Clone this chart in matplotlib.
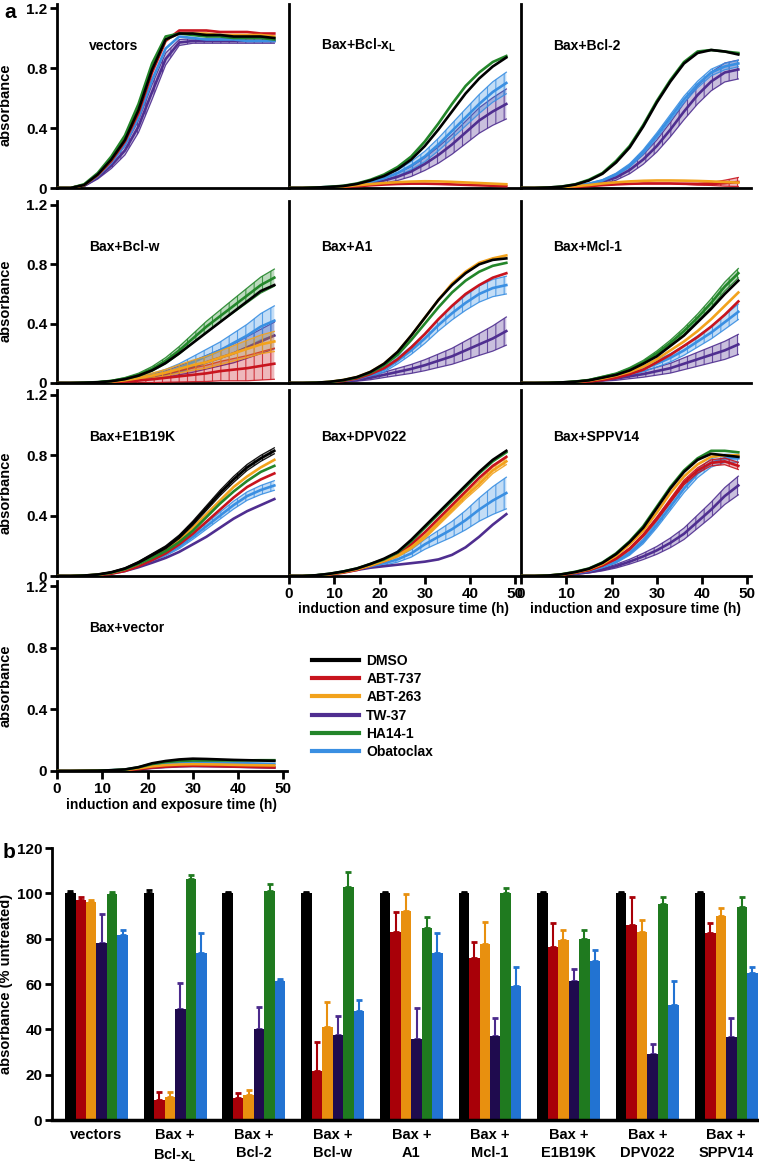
import numpy as np
import matplotlib
matplotlib.use("Agg")
import matplotlib.pyplot as plt
from matplotlib.lines import Line2D

plt.rcParams['font.family'] = ['Liberation Sans', 'DejaVu Sans']
plt.rcParams['mathtext.fontset'] = 'custom'
plt.rcParams['mathtext.rm'] = 'Liberation Sans:bold'
plt.rcParams['mathtext.bf'] = 'Liberation Sans:bold'
plt.rcParams['hatch.linewidth'] = 0.8

# ---------------- data ----------------
hours = [0, 3, 6, 9, 12, 15, 18, 21, 24, 27, 30, 33, 36, 39, 42, 45, 48]
treatments = ['DMSO', 'ABT-737', 'ABT-263', 'TW-37', 'HA14-1', 'Obatoclax']
line_colors = ['#000000', '#c8141e', '#f2a21c', '#4f2e90', '#23862a', '#3a8fe2']
bar_colors = ['#000000', '#a80008', '#e8900f', '#1f0b4e', '#1f7a1f', '#2273d2']

# order of rows in each panel list follows `treatments`
vectors_curves = [
    [0, 0, 0.02, 0.09, 0.19, 0.32, 0.52, 0.79, 0.99, 1.03, 1.03, 1.02, 1.02, 1.01, 1.01, 1.01, 1.00],
    [0, 0, 0.02, 0.085, 0.18, 0.31, 0.50, 0.77, 0.98, 1.05, 1.05, 1.05, 1.04, 1.04, 1.04, 1.03, 1.03],
    [0, 0, 0.02, 0.09, 0.19, 0.33, 0.53, 0.80, 0.99, 1.03, 1.03, 1.03, 1.02, 1.02, 1.02, 1.02, 1.01],
    [0, 0, 0.015, 0.07, 0.15, 0.25, 0.41, 0.64, 0.86, 0.97, 0.98, 0.98, 0.98, 0.98, 0.98, 0.98, 0.98],
    [0, 0, 0.025, 0.10, 0.21, 0.35, 0.56, 0.83, 1.01, 1.03, 1.02, 1.01, 1.01, 1.00, 1.00, 1.00, 0.99],
    [0, 0, 0.02, 0.08, 0.17, 0.29, 0.47, 0.72, 0.93, 1.01, 1.00, 0.99, 0.99, 0.99, 0.98, 0.98, 0.98],
]
vectors_err = {
    3: [0, 0, 0.005, 0.01, 0.02, 0.03, 0.04, 0.05, 0.04, 0.02, 0.015, 0.015, 0.015, 0.015, 0.015, 0.015, 0.015],
}

bclxl_curves = [
    [0, 0, 0.003, 0.007, 0.013, 0.027, 0.05, 0.08, 0.125, 0.19, 0.28, 0.39, 0.51, 0.63, 0.73, 0.81, 0.87],
    [0, 0, 0.001, 0.003, 0.007, 0.012, 0.018, 0.023, 0.027, 0.029, 0.029, 0.027, 0.024, 0.021, 0.018, 0.015, 0.012],
    [0, 0, 0.002, 0.005, 0.01, 0.018, 0.026, 0.033, 0.039, 0.043, 0.045, 0.044, 0.041, 0.037, 0.033, 0.029, 0.025],
    [0, 0, 0.002, 0.005, 0.01, 0.017, 0.03, 0.05, 0.075, 0.11, 0.16, 0.22, 0.29, 0.37, 0.45, 0.51, 0.56],
    [0, 0, 0.003, 0.008, 0.015, 0.03, 0.055, 0.09, 0.14, 0.21, 0.31, 0.43, 0.56, 0.68, 0.77, 0.84, 0.88],
    [0, 0, 0.003, 0.007, 0.012, 0.022, 0.04, 0.065, 0.10, 0.15, 0.21, 0.29, 0.38, 0.47, 0.56, 0.64, 0.70],
]
bclxl_err = {
    3: [0, 0, 0, 0.002, 0.004, 0.007, 0.012, 0.018, 0.025, 0.033, 0.043, 0.055, 0.065, 0.075, 0.085, 0.092, 0.10],
    5: [0, 0, 0, 0.002, 0.004, 0.007, 0.01, 0.015, 0.02, 0.027, 0.035, 0.042, 0.05, 0.057, 0.063, 0.068, 0.072],
}

bcl2_curves = [
    [0, 0, 0.003, 0.009, 0.023, 0.05, 0.095, 0.17, 0.27, 0.41, 0.57, 0.71, 0.83, 0.90, 0.92, 0.91, 0.89],
    [0, 0, 0.001, 0.004, 0.008, 0.013, 0.019, 0.024, 0.028, 0.03, 0.03, 0.03, 0.028, 0.026, 0.027, 0.032, 0.04],
    [0, 0, 0.002, 0.006, 0.012, 0.02, 0.03, 0.038, 0.044, 0.048, 0.05, 0.05, 0.049, 0.047, 0.044, 0.04, 0.036],
    [0, 0, 0.002, 0.005, 0.011, 0.022, 0.04, 0.07, 0.12, 0.19, 0.28, 0.39, 0.51, 0.62, 0.71, 0.77, 0.79],
    [0, 0, 0.003, 0.01, 0.025, 0.055, 0.10, 0.18, 0.28, 0.42, 0.58, 0.72, 0.84, 0.91, 0.92, 0.91, 0.90],
    [0, 0, 0.002, 0.006, 0.014, 0.028, 0.05, 0.09, 0.15, 0.24, 0.35, 0.47, 0.59, 0.69, 0.77, 0.81, 0.83],
]
bcl2_err = {
    1: [0, 0, 0, 0, 0, 0, 0, 0, 0, 0, 0, 0, 0.003, 0.006, 0.01, 0.02, 0.03],
    3: [0, 0, 0, 0.002, 0.004, 0.007, 0.012, 0.018, 0.025, 0.032, 0.04, 0.048, 0.055, 0.06, 0.062, 0.063, 0.063],
    5: [0, 0, 0, 0.001, 0.002, 0.004, 0.006, 0.009, 0.012, 0.015, 0.018, 0.02, 0.022, 0.022, 0.022, 0.022, 0.022],
}

bclw_curves = [
    [0, 0, 0.002, 0.005, 0.012, 0.026, 0.05, 0.085, 0.135, 0.2, 0.27, 0.34, 0.41, 0.48, 0.55, 0.62, 0.66],
    [0, 0, 0, 0.002, 0.005, 0.01, 0.017, 0.025, 0.035, 0.045, 0.055, 0.065, 0.08, 0.09, 0.1, 0.115, 0.13],
    [0, 0, 0.001, 0.004, 0.009, 0.018, 0.033, 0.05, 0.07, 0.095, 0.12, 0.14, 0.17, 0.2, 0.23, 0.26, 0.28],
    [0, 0, 0.001, 0.003, 0.007, 0.014, 0.026, 0.042, 0.06, 0.085, 0.11, 0.14, 0.17, 0.2, 0.24, 0.28, 0.32],
    [0, 0, 0.002, 0.006, 0.014, 0.03, 0.055, 0.095, 0.15, 0.22, 0.3, 0.38, 0.45, 0.52, 0.59, 0.66, 0.71],
    [0, 0, 0.001, 0.004, 0.008, 0.016, 0.03, 0.048, 0.07, 0.1, 0.14, 0.18, 0.22, 0.27, 0.32, 0.38, 0.42],
]
bclw_err = {
    1: [0, 0, 0, 0.002, 0.005, 0.01, 0.016, 0.023, 0.03, 0.038, 0.046, 0.055, 0.065, 0.075, 0.085, 0.095, 0.105],
    2: [0, 0, 0, 0.002, 0.004, 0.008, 0.012, 0.017, 0.022, 0.028, 0.034, 0.04, 0.046, 0.052, 0.058, 0.063, 0.068],
    3: [0, 0, 0, 0.002, 0.004, 0.007, 0.011, 0.016, 0.022, 0.03, 0.038, 0.046, 0.055, 0.064, 0.073, 0.082, 0.09],
    4: [0, 0, 0.001, 0.002, 0.004, 0.007, 0.011, 0.016, 0.021, 0.026, 0.031, 0.036, 0.041, 0.046, 0.05, 0.054, 0.058],
    5: [0, 0, 0, 0.002, 0.004, 0.007, 0.011, 0.016, 0.022, 0.03, 0.038, 0.047, 0.056, 0.066, 0.076, 0.088, 0.10],
}

a1_curves = [
    [0, 0, 0.002, 0.008, 0.02, 0.04, 0.075, 0.13, 0.21, 0.32, 0.44, 0.56, 0.66, 0.74, 0.80, 0.83, 0.84],
    [0, 0, 0.001, 0.005, 0.014, 0.03, 0.06, 0.10, 0.16, 0.24, 0.33, 0.43, 0.52, 0.60, 0.66, 0.71, 0.74],
    [0, 0, 0.002, 0.008, 0.02, 0.04, 0.075, 0.13, 0.21, 0.32, 0.44, 0.56, 0.67, 0.75, 0.81, 0.84, 0.86],
    [0, 0, 0.001, 0.004, 0.01, 0.02, 0.035, 0.055, 0.075, 0.095, 0.12, 0.15, 0.18, 0.22, 0.26, 0.30, 0.35],
    [0, 0, 0.002, 0.007, 0.018, 0.037, 0.07, 0.12, 0.19, 0.29, 0.40, 0.51, 0.61, 0.69, 0.75, 0.79, 0.81],
    [0, 0, 0.001, 0.005, 0.013, 0.028, 0.055, 0.09, 0.15, 0.22, 0.30, 0.39, 0.47, 0.54, 0.60, 0.64, 0.66],
]
a1_err = {
    3: [0, 0, 0, 0.002, 0.004, 0.008, 0.013, 0.018, 0.024, 0.03, 0.037, 0.045, 0.054, 0.064, 0.074, 0.085, 0.095],
    5: [0, 0, 0, 0.002, 0.004, 0.007, 0.011, 0.016, 0.021, 0.027, 0.033, 0.039, 0.045, 0.05, 0.055, 0.058, 0.06],
}

mcl1_curves = [
    [0, 0, 0.001, 0.004, 0.009, 0.018, 0.036, 0.055, 0.085, 0.13, 0.18, 0.25, 0.32, 0.41, 0.5, 0.6, 0.69],
    [0, 0, 0, 0.002, 0.005, 0.01, 0.02, 0.035, 0.06, 0.09, 0.14, 0.19, 0.25, 0.31, 0.38, 0.46, 0.55],
    [0, 0, 0.001, 0.003, 0.008, 0.016, 0.03, 0.05, 0.075, 0.11, 0.16, 0.22, 0.28, 0.35, 0.43, 0.52, 0.61],
    [0, 0, 0.001, 0.003, 0.006, 0.012, 0.02, 0.03, 0.045, 0.06, 0.08, 0.1, 0.13, 0.16, 0.19, 0.22, 0.26],
    [0, 0, 0.001, 0.004, 0.01, 0.02, 0.04, 0.06, 0.095, 0.14, 0.2, 0.27, 0.35, 0.44, 0.54, 0.65, 0.74],
    [0, 0, 0.001, 0.003, 0.007, 0.014, 0.026, 0.042, 0.065, 0.095, 0.13, 0.17, 0.22, 0.28, 0.34, 0.41, 0.48],
]
mcl1_err = {
    3: [0, 0, 0, 0.001, 0.003, 0.005, 0.008, 0.012, 0.016, 0.021, 0.027, 0.033, 0.04, 0.047, 0.054, 0.061, 0.068],
    4: [0, 0, 0, 0.001, 0.002, 0.004, 0.006, 0.008, 0.01, 0.013, 0.016, 0.019, 0.022, 0.025, 0.028, 0.03, 0.032],
    5: [0, 0, 0, 0.001, 0.003, 0.005, 0.008, 0.011, 0.015, 0.019, 0.023, 0.028, 0.033, 0.038, 0.043, 0.048, 0.052],
}

e1b19k_curves = [
    [0, 0, 0.003, 0.01, 0.025, 0.05, 0.09, 0.14, 0.19, 0.26, 0.35, 0.45, 0.55, 0.64, 0.72, 0.78, 0.83],
    [0, 0, 0.002, 0.006, 0.015, 0.033, 0.065, 0.105, 0.15, 0.21, 0.28, 0.36, 0.44, 0.52, 0.59, 0.64, 0.68],
    [0, 0, 0.003, 0.009, 0.022, 0.045, 0.08, 0.125, 0.17, 0.235, 0.32, 0.41, 0.5, 0.59, 0.66, 0.72, 0.77],
    [0, 0, 0.002, 0.007, 0.017, 0.033, 0.058, 0.088, 0.12, 0.16, 0.21, 0.26, 0.32, 0.38, 0.43, 0.47, 0.51],
    [0, 0, 0.003, 0.009, 0.022, 0.045, 0.08, 0.12, 0.165, 0.225, 0.30, 0.39, 0.48, 0.56, 0.63, 0.69, 0.73],
    [0, 0, 0.002, 0.008, 0.02, 0.04, 0.07, 0.105, 0.145, 0.195, 0.26, 0.33, 0.40, 0.47, 0.53, 0.57, 0.60],
]
e1b19k_err = {
    0: [0, 0, 0, 0.001, 0.002, 0.004, 0.006, 0.008, 0.01, 0.012, 0.014, 0.016, 0.018, 0.02, 0.02, 0.02, 0.02],
    5: [0, 0, 0, 0.001, 0.002, 0.004, 0.006, 0.008, 0.011, 0.014, 0.017, 0.02, 0.023, 0.026, 0.028, 0.03, 0.032],
}

dpv022_curves = [
    [0, 0, 0.005, 0.015, 0.03, 0.05, 0.08, 0.115, 0.16, 0.24, 0.33, 0.42, 0.51, 0.60, 0.69, 0.77, 0.83],
    [0, 0, 0.003, 0.01, 0.022, 0.04, 0.07, 0.10, 0.14, 0.21, 0.29, 0.38, 0.47, 0.56, 0.65, 0.73, 0.79],
    [0, 0, 0.004, 0.012, 0.026, 0.045, 0.07, 0.10, 0.135, 0.19, 0.26, 0.35, 0.44, 0.53, 0.61, 0.70, 0.76],
    [0, 0, 0.004, 0.013, 0.026, 0.04, 0.055, 0.065, 0.075, 0.085, 0.095, 0.11, 0.14, 0.19, 0.26, 0.34, 0.41],
    [0, 0, 0.005, 0.015, 0.03, 0.05, 0.08, 0.11, 0.155, 0.23, 0.32, 0.41, 0.50, 0.59, 0.68, 0.76, 0.82],
    [0, 0, 0.004, 0.013, 0.028, 0.045, 0.065, 0.085, 0.11, 0.15, 0.21, 0.26, 0.31, 0.37, 0.44, 0.50, 0.55],
]
dpv022_err = {
    2: [0, 0, 0, 0.001, 0.002, 0.003, 0.005, 0.007, 0.009, 0.011, 0.013, 0.015, 0.017, 0.019, 0.02, 0.021, 0.022],
    5: [0, 0, 0, 0.002, 0.004, 0.006, 0.009, 0.013, 0.018, 0.025, 0.033, 0.042, 0.052, 0.064, 0.077, 0.092, 0.105],
}

sppv14_curves = [
    [0, 0, 0.003, 0.011, 0.026, 0.048, 0.087, 0.145, 0.225, 0.32, 0.45, 0.58, 0.69, 0.77, 0.81, 0.80, 0.79],
    [0, 0, 0.002, 0.008, 0.02, 0.038, 0.07, 0.115, 0.18, 0.27, 0.38, 0.50, 0.62, 0.70, 0.75, 0.76, 0.73],
    [0, 0, 0.003, 0.01, 0.024, 0.045, 0.08, 0.135, 0.21, 0.30, 0.42, 0.55, 0.66, 0.74, 0.79, 0.80, 0.80],
    [0, 0, 0.002, 0.006, 0.014, 0.025, 0.042, 0.065, 0.095, 0.13, 0.17, 0.22, 0.28, 0.36, 0.44, 0.53, 0.60],
    [0, 0, 0.003, 0.012, 0.028, 0.05, 0.09, 0.15, 0.23, 0.33, 0.46, 0.59, 0.70, 0.78, 0.83, 0.83, 0.82],
    [0, 0, 0.002, 0.008, 0.018, 0.034, 0.06, 0.095, 0.15, 0.23, 0.34, 0.46, 0.58, 0.68, 0.75, 0.78, 0.78],
]
sppv14_err = {
    1: [0, 0, 0, 0.001, 0.002, 0.003, 0.004, 0.006, 0.008, 0.01, 0.012, 0.014, 0.016, 0.018, 0.02, 0.022, 0.024],
    3: [0, 0, 0, 0.001, 0.003, 0.005, 0.008, 0.012, 0.016, 0.021, 0.026, 0.032, 0.038, 0.044, 0.05, 0.056, 0.062],
    5: [0, 0, 0, 0.001, 0.002, 0.004, 0.006, 0.009, 0.012, 0.016, 0.02, 0.024, 0.027, 0.028, 0.028, 0.027, 0.026],
}

baxvector_curves = [
    [0, 0, 0.001, 0.002, 0.005, 0.01, 0.025, 0.05, 0.065, 0.075, 0.08, 0.078, 0.075, 0.072, 0.07, 0.068, 0.066],
    [0, 0, 0.001, 0.002, 0.003, 0.005, 0.012, 0.022, 0.028, 0.032, 0.034, 0.033, 0.031, 0.029, 0.027, 0.025, 0.023],
    [0, 0, 0.001, 0.002, 0.004, 0.007, 0.017, 0.03, 0.038, 0.042, 0.044, 0.043, 0.042, 0.04, 0.038, 0.037, 0.036],
    [0, 0, 0.001, 0.002, 0.003, 0.005, 0.011, 0.02, 0.026, 0.03, 0.032, 0.031, 0.03, 0.028, 0.026, 0.024, 0.022],
    [0, 0, 0.001, 0.002, 0.005, 0.009, 0.024, 0.045, 0.058, 0.065, 0.068, 0.068, 0.068, 0.068, 0.069, 0.07, 0.07],
    [0, 0, 0.001, 0.002, 0.005, 0.009, 0.021, 0.038, 0.048, 0.055, 0.058, 0.056, 0.054, 0.052, 0.05, 0.048, 0.046],
]
baxvector_err = {}

panel_titles = ['vectors', 'Bax+Bcl-x$_{\\rm L}$', 'Bax+Bcl-2',
                'Bax+Bcl-w', 'Bax+A1', 'Bax+Mcl-1',
                'Bax+E1B19K', 'Bax+DPV022', 'Bax+SPPV14',
                'Bax+vector']
panel_curves = [vectors_curves, bclxl_curves, bcl2_curves,
                bclw_curves, a1_curves, mcl1_curves,
                e1b19k_curves, dpv022_curves, sppv14_curves,
                baxvector_curves]
panel_errs = [vectors_err, bclxl_err, bcl2_err,
              bclw_err, a1_err, mcl1_err,
              e1b19k_err, dpv022_err, sppv14_err,
              baxvector_err]

# panel b (bar chart)
groups = ['vectors', 'Bax +\nBcl-x$_{\\rm L}$', 'Bax +\nBcl-2', 'Bax +\nBcl-w', 'Bax +\nA1',
          'Bax +\nMcl-1', 'Bax +\nE1B19K', 'Bax +\nDPV022', 'Bax +\nSPPV14']
bar_dmso = [100, 100, 100, 100, 100, 100, 100, 100, 100]
bar_abt737 = [97, 9, 9.5, 21.5, 83, 71.6, 76.5, 85.9, 82.4]
bar_abt263 = [96, 10, 11, 41, 92.2, 77.8, 79.3, 82.8, 90.1]
bar_tw37 = [78, 49, 40, 37.5, 35.6, 37.1, 61.2, 29.1, 36.5]
bar_ha141 = [99.7, 106.5, 101, 103, 84.6, 100.3, 80, 95.4, 94.1]
bar_obato = [81.5, 73.5, 61.5, 48, 73.5, 59.3, 70.3, 50.6, 65]
err_dmso = [1, 1.5, 0.5, 0.5, 0.5, 0.5, 0.5, 0.5, 0.5]
err_abt737 = [1.2, 3.5, 2.5, 13, 8.8, 7.1, 10.3, 12.3, 4.6]
err_abt263 = [0.9, 2.5, 2.3, 11, 7.4, 9.4, 4.5, 5.4, 3.6]
err_tw37 = [13, 11.5, 10, 8.5, 13.8, 7.8, 5.3, 4.4, 8.4]
err_ha141 = [0.8, 1.5, 3, 6.5, 5, 2.2, 3.8, 3.1, 4.1]
err_obato = [2.3, 9, 0.7, 5, 9, 8.3, 4.7, 10.7, 2.6]

# ---------------- figure ----------------
W, H = 759, 1165
fig = plt.figure(figsize=(W / 100, H / 100), dpi=100)

col_left = [57, 289, 521]
col_w = 230
rows = [(188, 8), (383, 205), (576, 395), (771, 586)]  # (pixel y of 0, pixel y of 1.2)
YMAX = 1.23
XMAX = 50.8

draw_order = [3, 5, 1, 2, 4, 0]
zorders = {3: 2, 5: 2.2, 1: 3, 2: 3.2, 4: 4, 0: 5}

tick_font = dict(fontsize=11, fontweight='bold')


def make_axes(col, row):
    y0, y12 = rows[row]
    h = (y0 - y12) * YMAX / 1.2
    return fig.add_axes([col_left[col] / W, 1 - y0 / H, col_w / W, h / H])


positions = [(0, 0), (1, 0), (2, 0), (0, 1), (1, 1), (2, 1), (0, 2), (1, 2), (2, 2), (0, 3)]
xtick_panels = {7, 8, 9}
title_y = [0.95, 0.95, 0.95, 0.92, 0.92, 0.92, 0.92, 0.92, 0.92, 0.93]

for idx, (col, row) in enumerate(positions):
    ax = make_axes(col, row)
    curves = panel_curves[idx]
    errs = panel_errs[idx]
    for k in draw_order:
        y = np.array(curves[k], dtype=float)
        c = line_colors[k]
        if k in errs:
            e = np.array(errs[k], dtype=float)
            ax.fill_between(hours, y - e, y + e, facecolor=c, alpha=0.30, lw=0,
                            zorder=zorders[k] - 0.5)
            ax.fill_between(hours, y - e, y + e, facecolor='none', edgecolor=c,
                            hatch='||', lw=0, alpha=0.8, zorder=zorders[k] - 0.4)
            ax.plot(hours, y + e, color=c, lw=0.9, alpha=0.9, zorder=zorders[k] - 0.3)
            ax.plot(hours, y - e, color=c, lw=0.9, alpha=0.9, zorder=zorders[k] - 0.3)
        ax.plot(hours, y, color=c, lw=1.9, zorder=zorders[k])

    ax.set_xlim(0, XMAX)
    ax.set_ylim(0, YMAX)
    for s in ['top', 'right']:
        ax.spines[s].set_visible(False)
    for s in ['left', 'bottom']:
        ax.spines[s].set_linewidth(2)
    ax.set_facecolor('none')

    if col == 0:
        ax.set_yticks([0, 0.4, 0.8, 1.2])
        ax.set_yticklabels(['0', '0.4', '0.8', '1.2'], **tick_font)
        ax.tick_params(axis='y', direction='out', length=5, width=2, pad=2)
        ax.set_ylabel('absorbance', fontsize=10.5, fontweight='bold')
        ax.yaxis.set_label_coords(-0.195, 0.45)
    else:
        ax.set_yticks([])

    if idx in xtick_panels:
        ax.set_xticks([0, 10, 20, 30, 40, 50])
        ax.set_xticklabels(['0', '10', '20', '30', '40', '50'], **tick_font)
        ax.tick_params(axis='x', direction='out', length=6, width=2, pad=2)
        ax.set_xlabel('induction and exposure time (h)', fontsize=10, fontweight='bold', labelpad=1)
    else:
        ax.set_xticks([])

    ax.text(0.14, title_y[idx], panel_titles[idx], transform=ax.get_yaxis_transform(),
            fontsize=10, fontweight='bold', ha='left', va='center')

fig.text(4 / W, 1 - 12 / H, 'a', fontsize=15, fontweight='bold', ha='left', va='center')

# legend
handles = [Line2D([0], [0], color=line_colors[k], lw=3) for k in range(6)]
fig.legend(handles, treatments, loc='upper left', bbox_to_anchor=(312 / W, 1 - 654 / H),
           frameon=False, handlelength=3.4, handletextpad=0.5, labelspacing=0.3,
           prop=dict(size=10, weight='bold'), borderaxespad=0, borderpad=0)

# ---------------- panel b ----------------
axb = fig.add_axes([52 / W, 1 - 1120 / H, 706 / W, 272 / H])
bar_series = [bar_dmso, bar_abt737, bar_abt263, bar_tw37, bar_ha141, bar_obato]
err_series = [err_dmso, err_abt737, err_abt263, err_tw37, err_ha141, err_obato]
xg = np.arange(len(groups))
bw = 0.133
for k in range(6):
    xs = xg + (k - 2.5) * bw
    axb.bar(xs, bar_series[k], width=bw, color=bar_colors[k], edgecolor='none', zorder=2)
    axb.errorbar(xs, bar_series[k], yerr=[np.zeros(len(groups)), err_series[k]],
                 fmt='none', ecolor=bar_colors[k] if k != 3 else '#4b2a8c',
                 elinewidth=1.5, capsize=2.2, capthick=2, zorder=1)

axb.set_xlim(-0.565, 8.405)
axb.set_ylim(0, 120)
for s in ['top', 'right']:
    axb.spines[s].set_visible(False)
axb.spines['left'].set_linewidth(2)
axb.spines['bottom'].set_linewidth(2.5)
axb.set_yticks([0, 20, 40, 60, 80, 100, 120])
axb.set_yticklabels(['0', '20', '40', '60', '80', '100', '120'], **tick_font)
axb.tick_params(axis='y', direction='out', length=5, width=2, pad=2)
axb.set_xticks(xg)
axb.set_xticklabels(groups, fontsize=10.5, fontweight='bold', linespacing=1.3)
axb.tick_params(axis='x', length=0, pad=6)
axb.set_ylabel('absorbance (% untreated)', fontsize=10.5, fontweight='bold')
axb.yaxis.set_label_coords(-0.055, 0.5)
axb.set_facecolor('none')

fig.text(3 / W, 1 - 852 / H, 'b', fontsize=15, fontweight='bold', ha='left', va='center')

fig.savefig('out.png', dpi=100)
